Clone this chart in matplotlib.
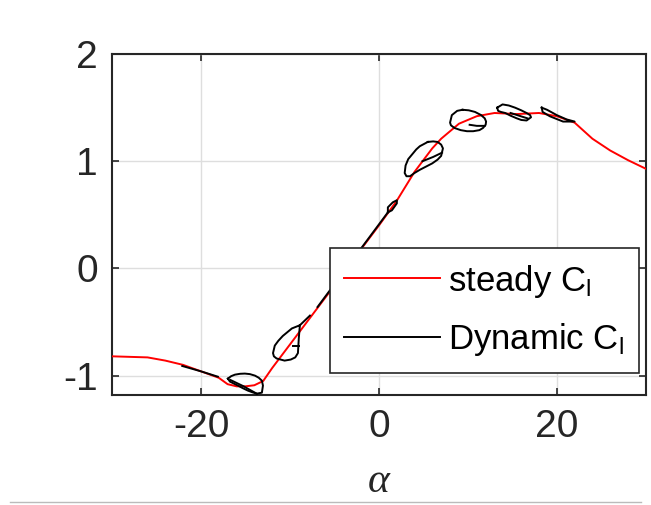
import matplotlib
matplotlib.use("Agg")
import matplotlib.pyplot as plt
from matplotlib.lines import Line2D

# ---------------- data ----------------
steady_alpha = [-30, -28, -26, -24, -22, -20, -18, -17, -16, -15, -14, -13, -12, -10, -8, -6, -4,
                -2, 0, 2, 4, 5, 6, 7, 9, 11, 13, 15.5, 18, 20, 22, 24, 26, 28, 30]
steady_cl = [-0.82, -0.825, -0.83, -0.86, -0.90, -0.96, -1.02, -1.08, -1.10, -1.10, -1.09, -1.05,
             -0.93, -0.71, -0.49, -0.27, -0.05, 0.18, 0.40, 0.63, 0.90, 1.01, 1.12, 1.21, 1.35,
             1.42, 1.45, 1.44, 1.45, 1.42, 1.36, 1.21, 1.10, 1.01, 0.93]

seg1_alpha = [-22.1, -20.0, -18.1]
seg1_cl = [-0.91, -0.96, -1.01]

loop1_alpha = [-16.97, -16.6, -16.18, -15.6, -15.06, -14.5, -13.93, -13.5, -13.15, -13.03, -13.15,
               -13.71, -14.2, -14.72, -15.3, -15.84, -16.74, -16.97]
loop1_cl = [-1.028, -1.005, -0.991, -0.983, -0.981, -0.986, -1.0, -1.02, -1.047, -1.093, -1.159,
            -1.168, -1.156, -1.140, -1.117, -1.093, -1.056, -1.028]
chord1_alpha = [-16.7, -15.2, -13.7]
chord1_cl = [-1.04, -1.10, -1.17]

loop2_alpha = [-7.75, -8.88, -9.78, -10.8, -11.3, -11.7, -11.9, -11.8, -11.5, -10.6, -9.9, -9.4,
               -9.1, -9.0, -8.88]
loop2_cl = [-0.44, -0.53, -0.56, -0.63, -0.675, -0.72, -0.79, -0.82, -0.84, -0.86, -0.85, -0.83,
            -0.79, -0.65, -0.53]
chord2_alpha = [-9.6, -9.0]
chord2_cl = [-0.72, -0.72]

seg2_alpha = [-6.9, -3.0, 1.01]
seg2_cl = [-0.36, 0.075, 0.523]

loop3_alpha = [1.01, 1.01, 1.57, 2.02, 2.02, 1.46, 1.01]
loop3_cl = [0.523, 0.570, 0.617, 0.636, 0.607, 0.542, 0.523]

loop4_alpha = [5.5, 6.1, 6.6, 7.0, 7.2, 7.0, 6.6, 6.0, 5.3, 4.6, 4.0, 3.5, 3.1, 2.9, 3.0, 3.3,
               3.8, 4.2, 4.6, 5.5]
loop4_cl = [1.18, 1.185, 1.18, 1.155, 1.12, 1.05, 1.015, 0.98, 0.95, 0.92, 0.89, 0.86, 0.86, 0.89,
            0.96, 1.02, 1.07, 1.11, 1.14, 1.18]
chord4_alpha = [4.9, 6.1, 7.1]
chord4_cl = [1.00, 1.04, 1.08]

loop5_alpha = [9.4, 10.1, 10.8, 11.5, 11.9, 12.05, 12.0, 11.7, 11.3, 10.6, 9.9, 9.2, 8.5, 8.1,
               8.0, 8.2, 8.8, 9.4]
loop5_cl = [1.48, 1.475, 1.46, 1.43, 1.40, 1.37, 1.34, 1.31, 1.29, 1.28, 1.28, 1.29, 1.31, 1.335,
            1.36, 1.43, 1.47, 1.48]
chord5_alpha = [10.2, 11.0, 11.9]
chord5_cl = [1.34, 1.33, 1.33]

loop6_alpha = [13.3, 13.9, 14.6, 15.3, 16.0, 16.6, 17.0, 17.1, 16.6, 16.0, 15.5, 14.8, 14.2, 13.7,
               13.4, 13.3]
loop6_cl = [1.50, 1.53, 1.52, 1.50, 1.475, 1.45, 1.43, 1.41, 1.38, 1.385, 1.40, 1.425, 1.45, 1.46,
            1.47, 1.50]
chord6_alpha = [14.8, 16.7]
chord6_cl = [1.45, 1.40]

loop7_alpha = [18.3, 18.9, 20.0, 21.1, 22.0, 20.7, 19.2, 18.4, 18.3]
loop7_cl = [1.50, 1.48, 1.43, 1.39, 1.37, 1.37, 1.42, 1.46, 1.50]

x_ticks = [-20, 0, 20]
y_ticks = [-1, 0, 1, 2]
x_tick_labels = ["-20", "0", "20"]
y_tick_labels = ["-1", "0", "1", "2"]

# ---------------- plot ----------------
plt.rcParams["axes.unicode_minus"] = False
plt.rcParams["font.family"] = ["Liberation Sans", "DejaVu Sans"]
plt.rcParams["mathtext.fontset"] = "custom"
plt.rcParams["mathtext.rm"] = "Liberation Sans"
plt.rcParams["mathtext.it"] = "Liberation Sans:italic"

fig = plt.figure(figsize=(6.51, 5.05), dpi=100)
ax = fig.add_axes([0.172, 0.218, 0.820, 0.675])

lw = 1.4
ax.plot(steady_alpha, steady_cl, color="#ff0000", lw=lw, zorder=3)
black_sets = [
    (seg1_alpha, seg1_cl), (loop1_alpha, loop1_cl), (chord1_alpha, chord1_cl),
    (loop2_alpha, loop2_cl), (chord2_alpha, chord2_cl), (seg2_alpha, seg2_cl),
    (loop3_alpha, loop3_cl), (loop4_alpha, loop4_cl), (chord4_alpha, chord4_cl),
    (loop5_alpha, loop5_cl), (chord5_alpha, chord5_cl), (loop6_alpha, loop6_cl),
    (chord6_alpha, chord6_cl), (loop7_alpha, loop7_cl),
]
for a, c in black_sets:
    ax.plot(a, c, color="black", lw=lw, zorder=4, solid_joinstyle="round")

ax.set_xlim(-30, 30)
ax.set_ylim(-1.18, 2)
ax.set_xticks(x_ticks)
ax.set_xticklabels(x_tick_labels)
ax.set_yticks(y_ticks)
ax.set_yticklabels(y_tick_labels)
ax.grid(True, color="#dedede", lw=1.0, zorder=0)
ax.set_axisbelow(True)
ax.tick_params(direction="in", length=5, width=1.2, colors="#262626", labelsize=28,
               top=True, right=True, pad=10)
for lab in ax.get_xticklabels() + ax.get_yticklabels():
    lab.set_color("#262626")
for s in ax.spines.values():
    s.set_color("#262626")
    s.set_linewidth(1.5)

handles = [Line2D([], [], color="#ff0000", lw=lw), Line2D([], [], color="black", lw=lw)]
leg = ax.legend(handles, ["steady $\\mathregular{C_l}$", "Dynamic $\\mathregular{C_l}$"],
                loc="lower right", bbox_to_anchor=(0.987, 0.065), fontsize=25,
                handlelength=2.75, handletextpad=0.25, labelspacing=0.62,
                borderpad=0.42, borderaxespad=0.0, fancybox=False, framealpha=1,
                edgecolor="#262626")
leg.get_frame().set_linewidth(1.2)
leg.set_zorder(10)

fig.text(0.582, 0.008, "α", fontsize=30, family="Liberation Serif", style="italic",
         ha="center", va="bottom", color="#262626")
fig.add_artist(Line2D([0.015, 0.985], [0.005, 0.005], transform=fig.transFigure, color="#bbbbbb", lw=1))

fig.savefig("out.png", dpi=100)
